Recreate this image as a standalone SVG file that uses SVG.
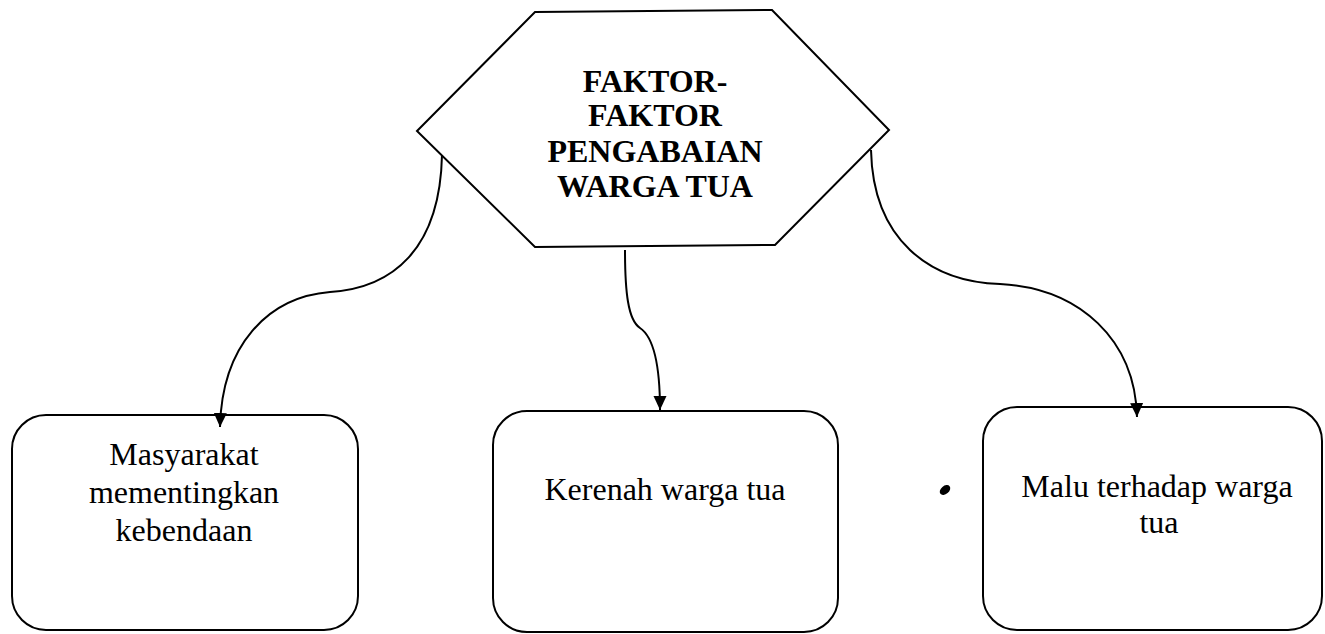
<svg xmlns="http://www.w3.org/2000/svg" width="1325" height="634" viewBox="0 0 1325 634">
  <style>
    .shape { fill: #ffffff; stroke: #000000; stroke-width: 2; }
    .conn { fill: none; stroke: #000000; stroke-width: 2; }
    .title { font-family: "Liberation Serif", "Times New Roman", serif; font-weight: bold; font-size: 32px; fill: #000000; text-anchor: middle; }
    .label { font-family: "Liberation Serif", "Times New Roman", serif; font-size: 32px; fill: #000000; text-anchor: middle; }
  </style>
  <defs>
    <marker id="arrow" markerUnits="userSpaceOnUse" markerWidth="14" markerHeight="14" refX="14" refY="6.5" orient="auto">
      <path d="M0,0 L14,6.5 L0,13 z" fill="#000000"/>
    </marker>
  </defs>
  <rect width="1325" height="634" fill="#ffffff"/>

  <g id="node-root">
    <polygon class="shape" points="417,131 535,12 772,10 889,130 775,245 535,247"/>
    <text class="title" x="655" y="92">FAKTOR-</text>
    <text class="title" x="655" y="126">FAKTOR</text>
    <text class="title" x="655" y="162">PENGABAIAN</text>
    <text class="title" x="655" y="197">WARGA TUA</text>
  </g>

  <g id="node-masyarakat">
    <rect class="shape" x="12" y="415" width="346" height="215" rx="34" ry="34"/>
    <text class="label" x="184" y="465">Masyarakat</text>
    <text class="label" x="184" y="503">mementingkan</text>
    <text class="label" x="184" y="541">kebendaan</text>
  </g>

  <g id="node-kerenah">
    <rect class="shape" x="493" y="411" width="345" height="221" rx="34" ry="34"/>
    <text class="label" x="665" y="500">Kerenah warga tua</text>
  </g>

  <g id="node-malu">
    <rect class="shape" x="983" y="407" width="339" height="223" rx="34" ry="34"/>
    <text class="label" x="1157" y="497">Malu terhadap warga</text>
    <text class="label" x="1159" y="533">tua</text>
  </g>

  <g id="connectors">
    <path class="conn" d="M442,155 C440,250 392,288 330,292 C268,297 222,345 220,427" marker-end="url(#arrow)"/>
    <path class="conn" d="M625,250 C625,292 628,320 640,328 C652,336 660,362 660,410" marker-end="url(#arrow)"/>
    <path class="conn" d="M871,150 C873,240 930,282 1000,284 C1080,288 1135,340 1137,417" marker-end="url(#arrow)"/>
  </g>

  <ellipse cx="945" cy="490" rx="6" ry="4" transform="rotate(-40 945 490)" fill="#000000"/>
</svg>
